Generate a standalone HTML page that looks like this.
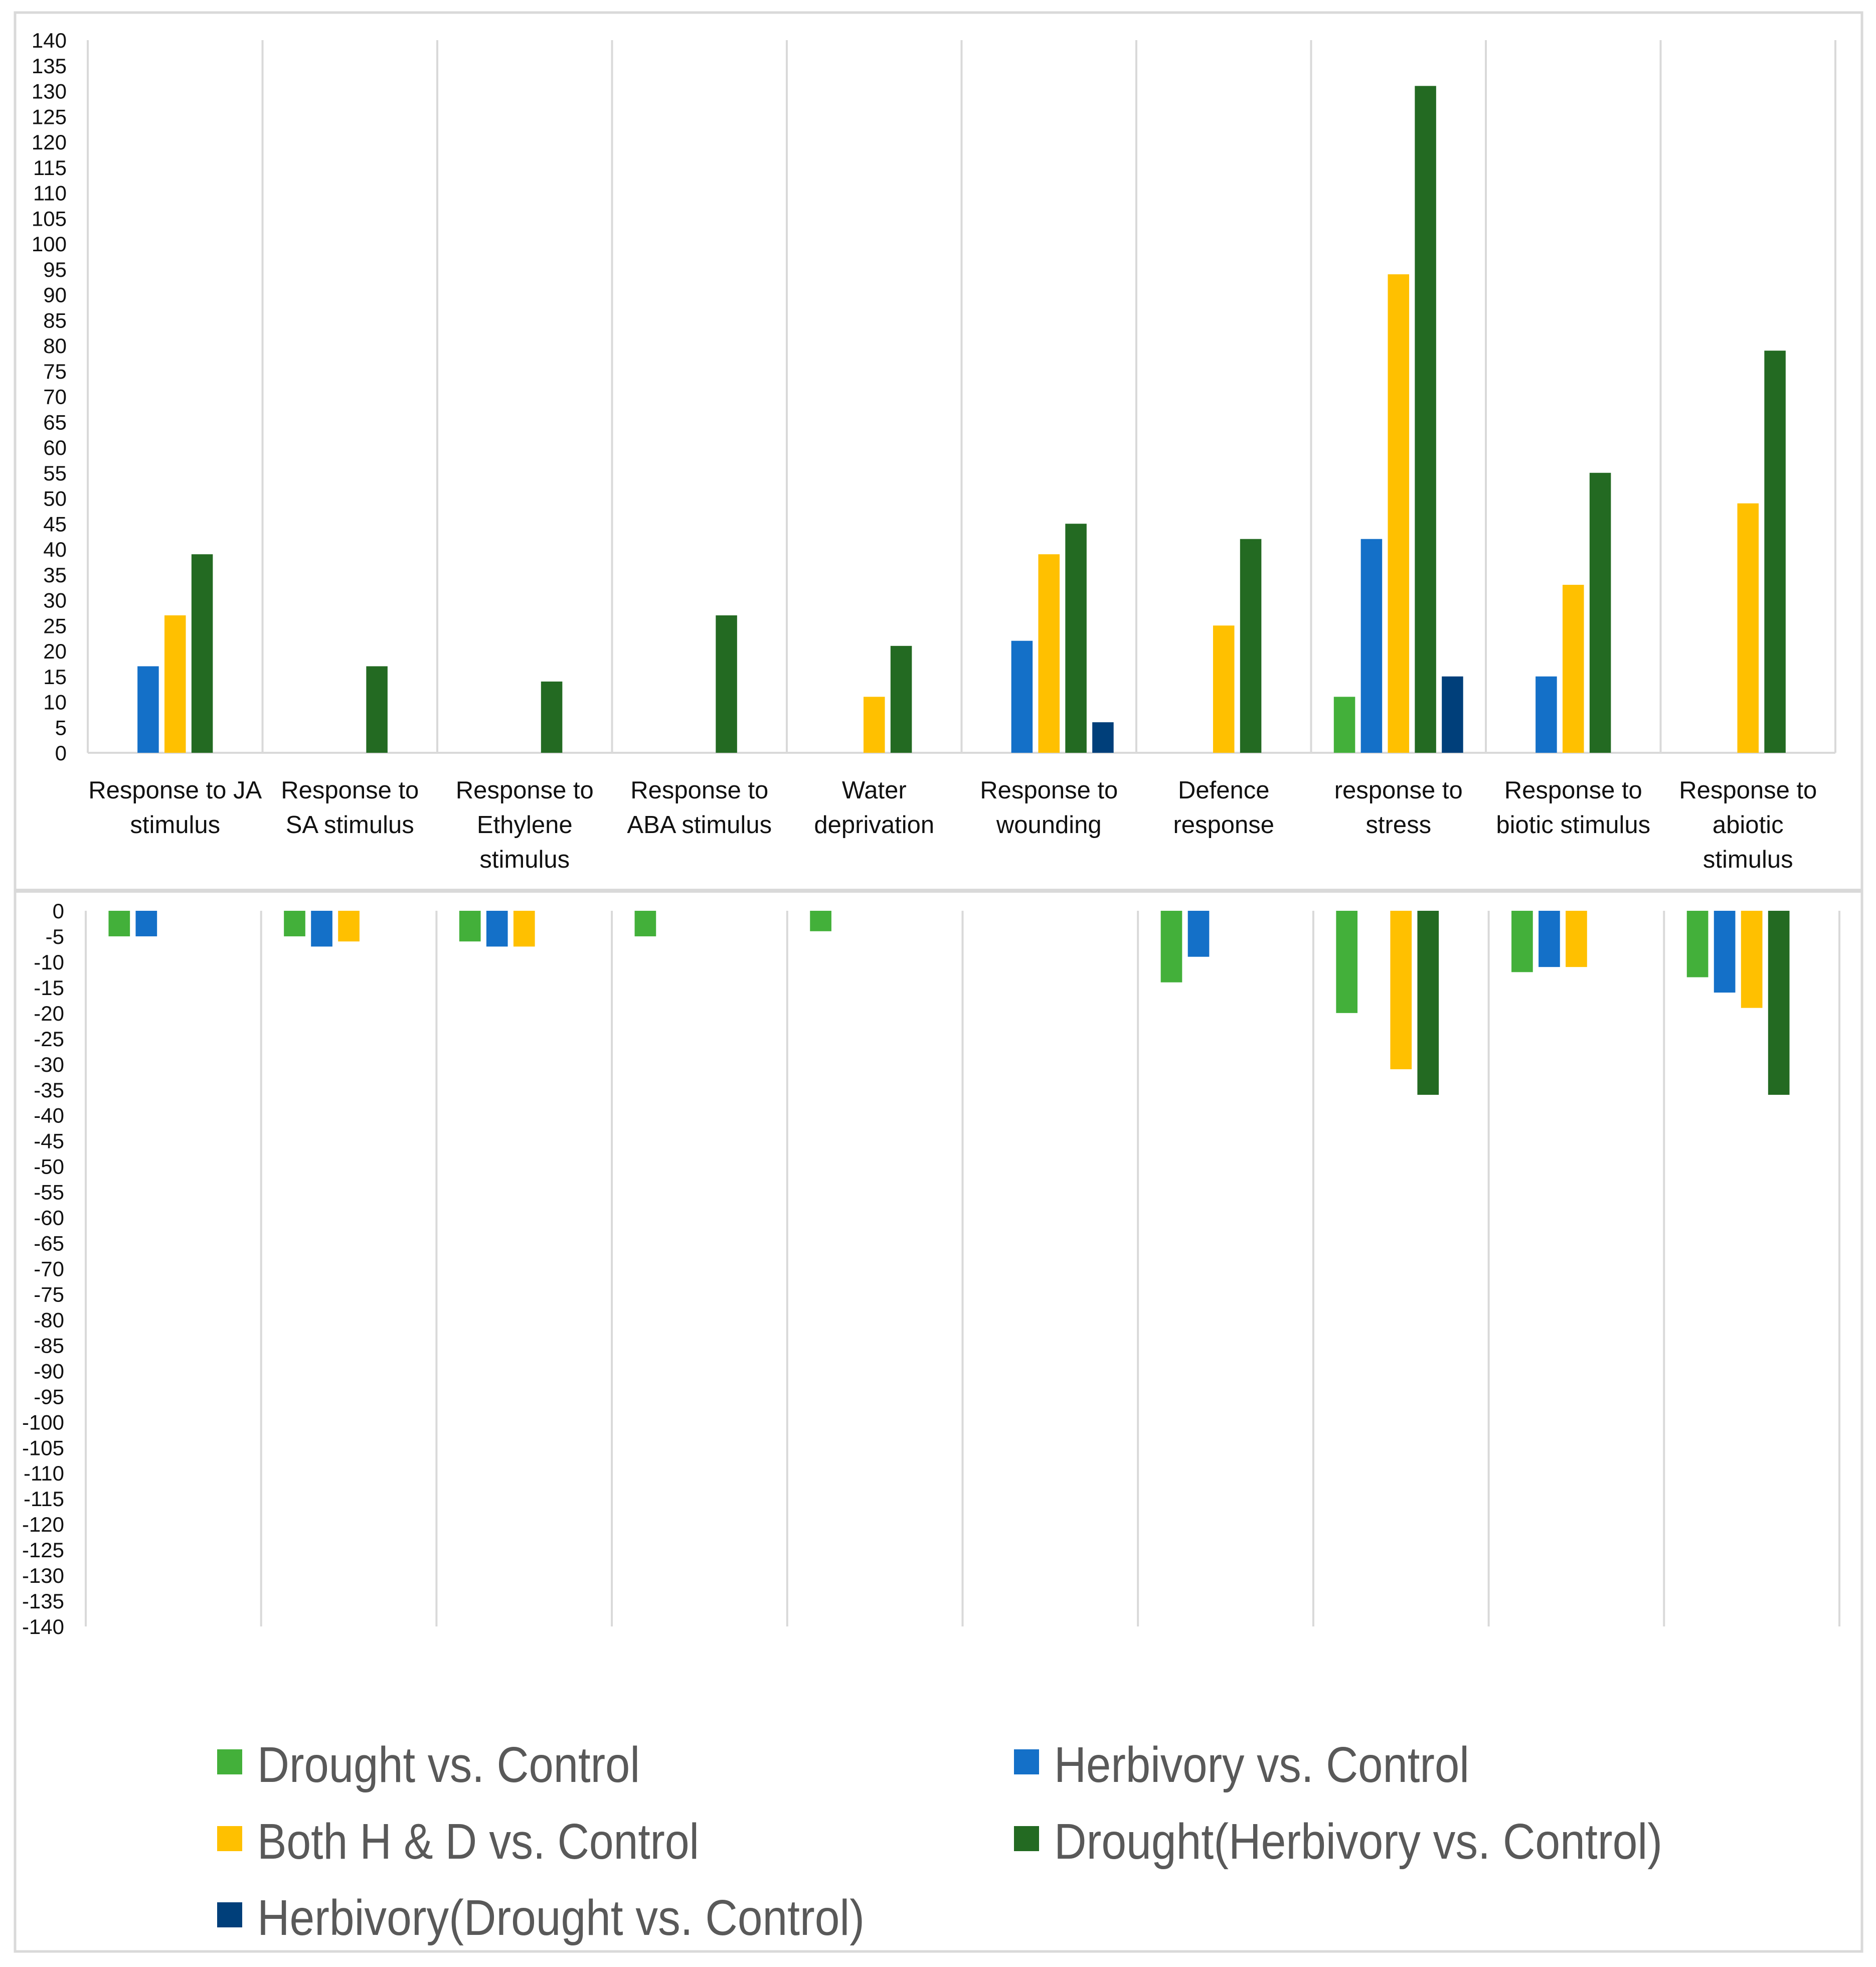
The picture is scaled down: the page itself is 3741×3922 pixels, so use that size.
<!DOCTYPE html>
<html><head><meta charset="utf-8"><style>
html,body{margin:0;padding:0;background:#fff}
svg{display:block;font-family:"Liberation Sans",sans-serif}
</style></head><body>
<svg id="chart" width="3741" height="3922" viewBox="0 0 3741 3922" xmlns="http://www.w3.org/2000/svg">
<rect x="30" y="25" width="3683" height="3866" fill="#fff" stroke="#d9d9d9" stroke-width="5"/>
<line x1="30" y1="1776" x2="3713" y2="1776" stroke="#d9d9d9" stroke-width="8"/>
<g id="top"></g><g id="bot"></g><g id="legend"></g>
</svg>
<script>
const categories=[["Response to JA","stimulus"],["Response to","SA stimulus"],["Response to","Ethylene","stimulus"],["Response to","ABA stimulus"],["Water","deprivation"],["Response to","wounding"],["Defence","response"],["response to","stress"],["Response to","biotic stimulus"],["Response to","abiotic","stimulus"]];
const seriesNames=["Drought vs. Control","Herbivory vs. Control","Both H & D vs. Control","Drought(Herbivory vs. Control)","Herbivory(Drought vs. Control)"];
const seriesColors=["#43B03A","#1470C8","#FFC000","#236A22","#003F7A"];
const upDrought=[0,0,0,0,0,0,0,11,0,0];
const upHerbivory=[17,0,0,0,0,22,0,42,15,0];
const upBoth=[27,0,0,0,11,39,25,94,33,49];
const upDroughtHerb=[39,17,14,27,21,45,42,131,55,79];
const upHerbDrought=[0,0,0,0,0,6,0,15,0,0];
const downDrought=[-5,-5,-6,-5,-4,0,-14,-20,-12,-13];
const downHerbivory=[-5,-7,-7,0,0,0,-9,0,-11,-16];
const downBoth=[0,-6,-7,0,0,0,0,-31,-11,-19];
const downDroughtHerb=[0,0,0,0,0,0,0,-36,0,-36];
const downHerbDrought=[0,0,0,0,0,0,0,0,0,0];
const topTicks=[0,5,10,15,20,25,30,35,40,45,50,55,60,65,70,75,80,85,90,95,100,105,110,115,120,125,130,135,140];
const botTicks=[0,-5,-10,-15,-20,-25,-30,-35,-40,-45,-50,-55,-60,-65,-70,-75,-80,-85,-90,-95,-100,-105,-110,-115,-120,-125,-130,-135,-140];

const NS="http://www.w3.org/2000/svg";
function mk(parent,tag,attrs,text){const e=document.createElementNS(NS,tag);for(const k in attrs)e.setAttribute(k,attrs[k]);if(text!==undefined)e.textContent=text;parent.appendChild(e);return e;}

function panel(gid,L,R,y0,yMax,vMin,vMax,ticks,series,labelX,hasAxis,prefix){
  const g=document.getElementById(gid);
  const n=categories.length, cw=(R-L)/n;
  const yS=v=>y0+(vMax-v)/(vMax-vMin)*(yMax-y0);
  for(let i=0;i<=n;i++){
    const l=mk(g,'line',{x1:L+i*cw,x2:L+i*cw,y1:y0,y2:yMax,stroke:'#d9d9d9','stroke-width':4});
    
    
  }
  if(hasAxis){
    const a=mk(g,'line',{x1:L,x2:R,y1:yS(0),y2:yS(0),stroke:'#d9d9d9','stroke-width':4});
    
    
  }
  ticks.forEach(t=>{
    const tx=mk(g,'text',{x:labelX,y:yS(t)+15,'text-anchor':'end','font-size':42,fill:'#111'},String(t));
    
    
  });
  const slot=cw*0.1545, bw=slot*0.79;
  series.forEach((arr,s)=>{
    arr.forEach((v,i)=>{
      if(!v)return;
      const cx=L+(i+0.5)*cw, x=cx-2.5*slot+s*slot+(slot-bw)/2;
      const ya=yS(v), yb=yS(0);
      const r=mk(g,'rect',{x:x,y:Math.min(ya,yb),width:bw,height:Math.abs(yb-ya),fill:seriesColors[s]});
      
      
    });
  });
  return {cw};
}
panel('top',175,3660,80,1501,0,140,topTicks,[upDrought,upHerbivory,upBoth,upDroughtHerb,upHerbDrought],133,true,'upregulated');
const tg=document.getElementById('top');
categories.forEach((lines,i)=>{
  const cx=175+(i+0.5)*(3660-175)/10;
  const tx=mk(tg,'text',{x:cx,y:1592,'text-anchor':'middle','font-size':49,fill:'#111'});
  
  
  lines.forEach((ln,j)=>{mk(tx,'tspan',{x:cx,dy:j?69:0},ln);});
});
panel('bot',171,3668,1816,3243,-140,0,botTicks,[downDrought,downHerbivory,downBoth,downDroughtHerb,downHerbDrought],128,false,'downregulated');
const lg=document.getElementById('legend');
const lpos=[[433,3515],[2022,3515],[433,3668],[2022,3668],[433,3820]];
const lwid=[763,828,881,1213,1211];
seriesNames.forEach((nm,s)=>{
  const [x,y]=lpos[s];
  const r=mk(lg,'rect',{x:x,y:y-27,width:50,height:50,fill:seriesColors[s]});
  
  
  const tx=mk(lg,'text',{x:x+80,y:y+38,'font-size':100,fill:'#595959',textLength:lwid[s],lengthAdjust:'spacingAndGlyphs'},nm);
  
  
});
</script>
</body></html>
